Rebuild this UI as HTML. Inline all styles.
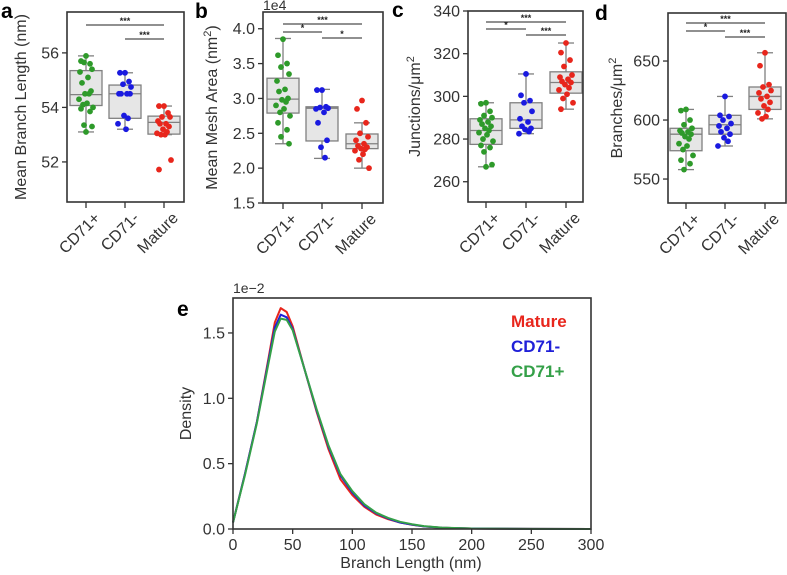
<!DOCTYPE html>
<html><head><meta charset="utf-8"><style>
body{margin:0;background:#fff}
svg{display:block;font-family:"Liberation Sans",sans-serif}
</style></head><body>
<svg id="fig" width="787" height="575" viewBox="0 0 787 575"></svg>
<script>
const categories=["CD71+","CD71-","Mature"];
// panel a
const aPts=[[55.89,55.7,55.6,55.65,55.4,55.3,55.1,54.9,54.6,54.5,54.5,54.3,54.15,54.1,54.0,53.95,53.85,53.35,53.3,53.1],
[55.27,55.27,54.95,54.85,54.75,54.5,54.5,54.5,54.5,53.7,53.6,53.4,53.2],
[54.05,54.05,53.8,53.65,53.65,53.5,53.4,53.4,53.3,53.2,53.1,53.05,53.0,53.0,52.07,51.72]];
const aBox=[[53.1,54.07,54.47,55.35,55.89],[53.2,53.6,54.5,54.82,55.27],[53.0,53.02,53.45,53.68,54.05]];
const aTicks=[52,54,56];
// panel b
const bPts=[[3.85,3.62,3.5,3.45,3.35,3.25,3.13,3.1,3.0,2.98,2.95,2.9,2.85,2.8,2.75,2.65,2.55,2.45,2.35],
[3.12,3.12,2.88,2.87,2.86,2.85,2.8,2.65,2.4,2.3,2.15],
[2.97,2.85,2.65,2.5,2.45,2.4,2.35,2.32,2.3,2.28,2.27,2.25,2.2,2.12,2.0]];
const bBox=[[2.35,2.79,2.99,3.29,3.86],[2.14,2.39,2.86,2.88,3.13],[2.0,2.28,2.35,2.49,2.65]];
const bTicks=[1.5,2.0,2.5,3.0,3.5,4.0];
// panel c
const cPts=[[297,296.5,293,291,290,289,288,287,286,285,284,283,282,280,279,277,276,274,268,267],
[310.5,300.5,298,297,293,289.5,288,286,285,284.5,283.5,282.5],
[325,320.5,317,314,310,309,308,307,306.5,305.5,304,303,301,299,297,294]];
const cBox=[[267,277.5,284,289.5,297],[282.5,285,289,297,310.5],[294,301.5,306.5,311.5,325]];
const cTicks=[260,280,300,320,340];
// panel d
const dPts=[[609,608,600,596,593,591,590,589,588,586,584,580,578,575,570,566,563,558],
[620,604,603,600,597,595,593,590,588,585,582,578],
[657,646,630,628,625,623,620,618,615,612,609,606,603,601]];
const dBox=[[558,574,588,593,609],[578,588,596,604,620],[601,609,620,628,657]];
const dTicks=[550,600,650];
// panel e density (x1e-2)
const eX=[0,10,20,30,35,40,45,50,60,70,80,90,100,110,120,130,140,150,160,175,200,250,300];
const eMature=[0.05,0.42,0.82,1.32,1.58,1.69,1.66,1.55,1.22,0.9,0.61,0.38,0.26,0.17,0.11,0.075,0.05,0.032,0.02,0.01,0.004,0.001,0];
const eCD71m=[0.05,0.42,0.82,1.3,1.54,1.64,1.62,1.53,1.22,0.91,0.63,0.41,0.28,0.18,0.12,0.08,0.05,0.034,0.02,0.01,0.004,0.001,0];
const eCD71p=[0.05,0.41,0.81,1.28,1.51,1.61,1.6,1.52,1.22,0.92,0.64,0.42,0.29,0.19,0.125,0.085,0.055,0.037,0.022,0.011,0.004,0.001,0];
const eXTicks=[0,50,100,150,200,250,300];
const eYTicks=[0.0,0.5,1.0,1.5];

const NS="http://www.w3.org/2000/svg";
const svg=document.getElementById('fig');
function el(tag,attrs,parent){const e=document.createElementNS(NS,tag);for(const k in attrs)e.setAttribute(k,attrs[k]);(parent||svg).appendChild(e);return e;}
const colors=["#2e9a2a","#1a1ae0","#e8261c"];
const jit=[0,-5,4,-2,6,-6,2,-4,5,-1,3,-7,1,-3,7,-5,4,-2,6,0];

function panel(o){
  const g=el('g',{});
  
  
  const L=o.x0,R=o.x1,T=o.y0,B=o.y1;
  const ys=v=>B-(v-o.ymin)/(o.ymax-o.ymin)*(B-T);
  const xs=i=>o.cx[i];
  o.box.forEach((b,i)=>{
    const bg=el('g',{},g);
    
    
    const cx=xs(i),w=16;
    el('line',{x1:cx,x2:cx,y1:ys(b[0]),y2:ys(b[1]),stroke:'#808080','stroke-width':1.3},bg);
    el('line',{x1:cx,x2:cx,y1:ys(b[3]),y2:ys(b[4]),stroke:'#808080','stroke-width':1.3},bg);
    el('line',{x1:cx-w/2,x2:cx+w/2,y1:ys(b[0]),y2:ys(b[0]),stroke:'#808080','stroke-width':1.3},bg);
    el('line',{x1:cx-w/2,x2:cx+w/2,y1:ys(b[4]),y2:ys(b[4]),stroke:'#808080','stroke-width':1.3},bg);
    el('rect',{x:cx-w,y:ys(b[3]),width:2*w,height:ys(b[1])-ys(b[3]),fill:'#e6e6e6',stroke:'#808080','stroke-width':1.3},bg);
    el('line',{x1:cx-w,x2:cx+w,y1:ys(b[2]),y2:ys(b[2]),stroke:'#808080','stroke-width':1.3},bg);
  });
  o.pts.forEach((arr,i)=>{
    arr.forEach((v,j)=>{
      const c=el('circle',{cx:xs(i)+jit[j%jit.length],cy:ys(v),r:2.9,fill:colors[i]},g);
      
      
    });
  });
  const f=el('rect',{x:L,y:T,width:R-L,height:B-T,fill:'none',stroke:'#333','stroke-width':1.6},g);
  
  
  o.ticks.forEach(t=>{
    const y=ys(t);
    el('line',{x1:L-5,x2:L,y1:y,y2:y,stroke:'#333','stroke-width':1.3},g);
    const tx=el('text',{x:L-8,y:y+5.5,'text-anchor':'end','font-size':16,fill:'#333'},g);
    tx.textContent=o.fmt(t);
    
    
  });
  categories.forEach((c,i)=>{
    const x=xs(i);
    el('line',{x1:x,x2:x,y1:B,y2:B+6,stroke:'#333','stroke-width':1.3},g);
    const tx=el('text',{x:0,y:0,'text-anchor':'end','font-size':16,fill:'#333',transform:`translate(${x+15},${B+17}) rotate(-45)`},g);
    tx.textContent=c;
    
    
  });
  o.sig.forEach(s=>{
    el('line',{x1:xs(s[0]),x2:xs(s[1]),y1:s[2],y2:s[2],stroke:'#222','stroke-width':0.9},g);
    const tx=el('text',{x:(xs(s[0])+xs(s[1]))/2,y:s[2]-1,'text-anchor':'middle','font-size':9,'font-weight':'bold',fill:'#222'},g);
    tx.textContent=s[3];
    
    
  });
  const yl=el('text',{x:0,y:0,'text-anchor':'middle','font-size':16,fill:'#333',transform:`translate(${o.ylx},${(T+B)/2}) rotate(-90)`},g);
  yl.innerHTML=o.ylabel;
  
  
  const pl=el('text',{x:o.lx,y:o.ly,'font-size':21,'font-weight':'bold',fill:'#000'},g);
  pl.textContent=o.letter;
  
  
}
panel({name:'panel-a',letter:'a',lx:1,ly:18,x0:67,x1:184,y0:12,y1:202,ymin:50.53,ymax:57.5,cx:[86,125,164],pts:aPts,box:aBox,ticks:aTicks,fmt:t=>t,ylx:26,ylabel:'Mean Branch Length (nm)',sig:[[0,2,25,'***'],[1,2,39,'***']]});
panel({name:'panel-b',letter:'b',lx:195,ly:18,x0:263,x1:383,y0:12,y1:203,ymin:1.5,ymax:4.24,cx:[283,322,362],pts:bPts,box:bBox,ticks:bTicks,fmt:t=>t.toFixed(1),ylx:217,ylabel:'Mean Mesh Area (nm<tspan baseline-shift="super" font-size="11">2</tspan>)',sig:[[0,2,24,'***'],[0,1,32,'*'],[1,2,38,'*']]});
panel({name:'panel-c',letter:'c',lx:392,ly:17,x0:468,x1:583,y0:11,y1:202,ymin:250.5,ymax:340,cx:[486,526,566],pts:cPts,box:cBox,ticks:cTicks,fmt:t=>t,ylx:420,ylabel:'Junctions/μm<tspan baseline-shift="super" font-size="11">2</tspan>',sig:[[0,2,22,'***'],[0,1,29,'*'],[1,2,35,'***']]});
panel({name:'panel-d',letter:'d',lx:595,ly:20,x0:668,x1:786,y0:13,y1:203,ymin:529.7,ymax:690.7,cx:[686,725,765],pts:dPts,box:dBox,ticks:dTicks,fmt:t=>t,ylx:622,ylabel:'Branches/μm<tspan baseline-shift="super" font-size="11">2</tspan>',sig:[[0,2,23,'***'],[0,1,31,'*'],[1,2,37,'***']]});
let t=el('text',{x:263,y:10,'font-size':14,fill:'#333'});t.textContent='1e4';



(function(){
  const g=el('g',{});
  
  
  const L=233,R=591,T=298,B=529;
  const xs=v=>L+v/300*(R-L);
  const ys=v=>B-v*130.7;
  const series=[[eCD71p,'#34a048','line-cd71-plus'],[eCD71m,'#2020d8','line-cd71-minus'],[eMature,'#e8261c','line-mature']];
  [series[2],series[1],series[0]].forEach(s=>{
    const d=s[0].map((v,i)=>(i?'L':'M')+xs(eX[i]).toFixed(1)+','+ys(v).toFixed(1)).join(' ');
    const p=el('path',{d:d,fill:'none',stroke:s[1],'stroke-width':2,'stroke-linejoin':'round'},g);
    
    
  });
  const f=el('rect',{x:L,y:T,width:R-L,height:B-T,fill:'none',stroke:'#333','stroke-width':1.6},g);
  
  
  eXTicks.forEach(v=>{
    const x=xs(v);
    el('line',{x1:x,x2:x,y1:B,y2:B+5,stroke:'#333','stroke-width':1.3},g);
    const tx=el('text',{x:x,y:B+21,'text-anchor':'middle','font-size':16,fill:'#333'},g);
    tx.textContent=v;
    
    
  });
  eYTicks.forEach(v=>{
    const y=ys(v);
    el('line',{x1:L-5,x2:L,y1:y,y2:y,stroke:'#333','stroke-width':1.3},g);
    const tx=el('text',{x:L-8,y:y+5.5,'text-anchor':'end','font-size':16,fill:'#333'},g);
    tx.textContent=v.toFixed(1);
    
    
  });
  let x=el('text',{x:411,y:568,'text-anchor':'middle','font-size':16,fill:'#333'},g);x.textContent='Branch Length (nm)';
  
  
  let y=el('text',{x:0,y:0,'text-anchor':'middle','font-size':16,fill:'#333',transform:`translate(191,${(T+B)/2}) rotate(-90)`},g);y.textContent='Density';
  
  
  let s=el('text',{x:233,y:293,'font-size':14,fill:'#333'},g);s.textContent='1e−2';
  
  
  let l=el('text',{x:177,y:316,'font-size':21,'font-weight':'bold',fill:'#000'},g);l.textContent='e';
  
  
  [['Mature','#e8261c',327],['CD71-','#2020d8',352],['CD71+','#34a048',377]].forEach(e=>{
    const tx=el('text',{x:511,y:e[2],'font-size':17,'font-weight':'bold',fill:e[1]},g);
    tx.textContent=e[0];
    
    
  });
})();
</script>
</body></html>
